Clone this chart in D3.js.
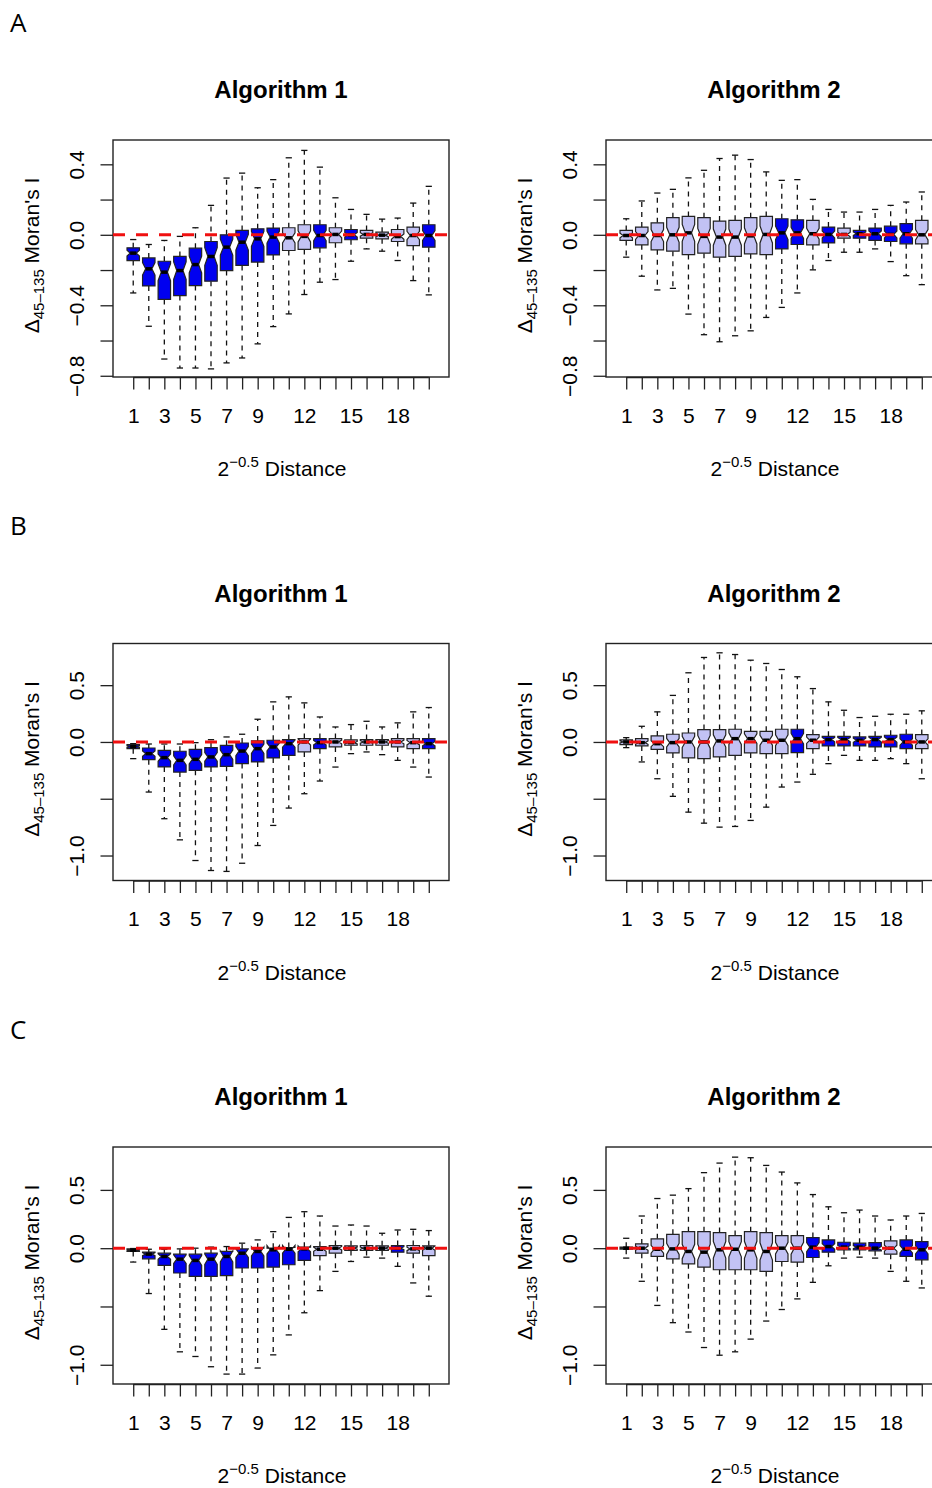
<!DOCTYPE html>
<html>
<head>
<meta charset="utf-8">
<script src="https://cdn.jsdelivr.net/npm/d3@7"></script>
<style>
  body { margin: 0; background: #fff; }
  svg { display: block; }
  text { font-family: "Liberation Sans", Arial, sans-serif; fill: #000; }
</style>
</head>
<body>
<svg id="fig" width="932" height="1488"></svg>
<script>
// distance classes on the x axis, and which of them R kept a label for
const distances = [1, 2, 3, 4, 5, 6, 7, 8, 9, 10, 11, 12, 13, 14, 15, 16, 17, 18, 19, 20];
const xLabels = [1, 3, 5, 7, 9, 12, 15, 18];

// y ticks per row (A, B, C) and the ones carrying a label
const yTicksA = [-0.8, -0.6, -0.4, -0.2, 0, 0.2, 0.4];
const yLabelsA = [-0.8, -0.4, 0, 0.4];
const yTicksBC = [-1.0, -0.5, 0, 0.5];
const yLabelsBC = [-1.0, 0, 0.5];

// box stats per distance: [lower whisker, Q1, median, Q3, upper whisker]
const statsA1 = [
  [-0.330, -0.146, -0.104, -0.074, -0.027], [-0.519, -0.290, -0.193, -0.131, -0.055],
  [-0.705, -0.367, -0.212, -0.150, -0.032], [-0.756, -0.345, -0.203, -0.123, -0.009],
  [-0.756, -0.288, -0.169, -0.076, 0.040], [-0.761, -0.263, -0.123, -0.038, 0.167],
  [-0.727, -0.203, -0.070, 0.000, 0.322], [-0.699, -0.174, -0.042, 0.025, 0.350],
  [-0.619, -0.155, -0.023, 0.034, 0.267], [-0.521, -0.114, -0.013, 0.038, 0.313],
  [-0.449, -0.089, -0.017, 0.040, 0.437], [-0.339, -0.083, -0.009, 0.057, 0.479],
  [-0.269, -0.074, -0.004, 0.057, 0.384], [-0.254, -0.045, 0.002, 0.040, 0.210],
  [-0.150, -0.028, 0.000, 0.030, 0.144], [-0.080, -0.019, 0.002, 0.025, 0.116],
  [-0.093, -0.023, -0.002, 0.015, 0.089], [-0.146, -0.038, -0.010, 0.030, 0.095],
  [-0.260, -0.061, -0.004, 0.044, 0.180], [-0.341, -0.070, -0.004, 0.057, 0.275]
];
const statsA2 = [
  [-0.127, -0.032, -0.004, 0.025, 0.091], [-0.235, -0.057, -0.004, 0.044, 0.192],
  [-0.313, -0.085, -0.004, 0.068, 0.237], [-0.304, -0.093, 0.000, 0.097, 0.258],
  [-0.450, -0.112, 0.011, 0.104, 0.323], [-0.567, -0.104, -0.009, 0.097, 0.366],
  [-0.607, -0.127, -0.013, 0.078, 0.433], [-0.573, -0.123, -0.013, 0.082, 0.452],
  [-0.545, -0.108, -0.006, 0.097, 0.427], [-0.469, -0.112, 0.002, 0.104, 0.357],
  [-0.412, -0.080, 0.011, 0.091, 0.309], [-0.330, -0.055, 0.011, 0.085, 0.313],
  [-0.199, -0.057, 0.006, 0.082, 0.201], [-0.146, -0.046, 0.002, 0.044, 0.144],
  [-0.099, -0.019, 0.002, 0.038, 0.129], [-0.099, -0.019, 0.006, 0.025, 0.129],
  [-0.080, -0.032, 0.006, 0.038, 0.144], [-0.152, -0.038, 0.002, 0.049, 0.167],
  [-0.232, -0.051, 0.006, 0.063, 0.186], [-0.283, -0.051, 0.000, 0.082, 0.243]
];
const statsB1 = [
  [-0.147, -0.059, -0.041, -0.024, -0.015], [-0.441, -0.156, -0.103, -0.053, -0.018],
  [-0.676, -0.220, -0.138, -0.074, -0.018], [-0.862, -0.265, -0.162, -0.082, -0.018],
  [-1.044, -0.250, -0.153, -0.065, -0.006], [-1.132, -0.220, -0.132, -0.050, 0.020],
  [-1.140, -0.215, -0.112, -0.030, 0.044], [-1.068, -0.190, -0.080, -0.009, 0.068],
  [-0.912, -0.176, -0.059, 0.009, 0.200], [-0.735, -0.141, -0.044, 0.015, 0.353],
  [-0.582, -0.118, -0.015, 0.021, 0.397], [-0.456, -0.088, 0.000, 0.030, 0.344],
  [-0.344, -0.059, -0.006, 0.030, 0.220], [-0.221, -0.044, 0.000, 0.030, 0.132],
  [-0.103, -0.029, -0.006, 0.018, 0.153], [-0.088, -0.029, 0.000, 0.021, 0.182],
  [-0.112, -0.029, 0.000, 0.021, 0.132], [-0.162, -0.044, 0.000, 0.030, 0.168],
  [-0.221, -0.059, -0.006, 0.030, 0.265], [-0.309, -0.059, -0.015, 0.030, 0.303]
];
const statsB2 = [
  [-0.050, -0.024, 0.000, 0.018, 0.038], [-0.176, -0.035, -0.006, 0.030, 0.138],
  [-0.324, -0.065, -0.015, 0.053, 0.265], [-0.479, -0.097, -0.006, 0.068, 0.410],
  [-0.618, -0.141, 0.000, 0.079, 0.609], [-0.715, -0.147, 0.000, 0.109, 0.744],
  [-0.750, -0.132, 0.009, 0.109, 0.785], [-0.744, -0.118, 0.029, 0.112, 0.770],
  [-0.691, -0.097, 0.029, 0.094, 0.720], [-0.574, -0.103, 0.015, 0.094, 0.691],
  [-0.397, -0.103, 0.015, 0.112, 0.638], [-0.353, -0.094, 0.029, 0.112, 0.574],
  [-0.285, -0.059, 0.015, 0.065, 0.470], [-0.191, -0.035, 0.021, 0.050, 0.353],
  [-0.118, -0.035, 0.021, 0.050, 0.279], [-0.162, -0.035, 0.015, 0.044, 0.215],
  [-0.162, -0.044, 0.021, 0.050, 0.226], [-0.147, -0.044, 0.021, 0.059, 0.244],
  [-0.191, -0.059, 0.000, 0.068, 0.244], [-0.324, -0.059, 0.000, 0.065, 0.274]
];
const statsC1 = [
  [-0.119, -0.028, -0.017, -0.006, -0.003], [-0.389, -0.091, -0.051, -0.034, -0.009],
  [-0.696, -0.148, -0.071, -0.043, -0.009], [-0.889, -0.213, -0.094, -0.051, -0.006],
  [-0.929, -0.241, -0.105, -0.051, 0.000], [-1.017, -0.241, -0.094, -0.043, 0.009],
  [-1.080, -0.236, -0.071, -0.028, 0.014], [-1.080, -0.170, -0.043, -0.006, 0.043],
  [-1.028, -0.170, -0.028, 0.000, 0.071], [-0.915, -0.162, -0.014, 0.000, 0.142],
  [-0.744, -0.142, -0.009, 0.006, 0.264], [-0.554, -0.105, -0.006, 0.009, 0.313],
  [-0.364, -0.063, -0.009, 0.014, 0.276], [-0.199, -0.043, 0.000, 0.023, 0.190],
  [-0.114, -0.020, 0.000, 0.020, 0.199], [-0.077, -0.020, 0.000, 0.023, 0.190],
  [-0.085, -0.020, 0.000, 0.020, 0.128], [-0.156, -0.034, 0.000, 0.023, 0.156],
  [-0.298, -0.043, -0.006, 0.023, 0.162], [-0.412, -0.063, 0.000, 0.020, 0.151]
];
const statsC2 = [
  [-0.085, -0.009, 0.000, 0.009, 0.085], [-0.284, -0.043, 0.000, 0.037, 0.276],
  [-0.491, -0.071, -0.009, 0.080, 0.426], [-0.639, -0.091, -0.006, 0.119, 0.455],
  [-0.719, -0.134, -0.028, 0.142, 0.511], [-0.852, -0.162, -0.034, 0.142, 0.648],
  [-0.918, -0.185, -0.014, 0.134, 0.730], [-0.889, -0.185, -0.009, 0.108, 0.781],
  [-0.780, -0.185, -0.014, 0.142, 0.776], [-0.625, -0.199, -0.028, 0.134, 0.710],
  [-0.526, -0.114, 0.000, 0.108, 0.653], [-0.435, -0.119, 0.000, 0.108, 0.560],
  [-0.293, -0.080, 0.009, 0.091, 0.460], [-0.151, -0.034, 0.014, 0.071, 0.355],
  [-0.085, -0.014, 0.009, 0.051, 0.304], [-0.077, -0.014, 0.009, 0.043, 0.327],
  [-0.085, -0.023, 0.000, 0.048, 0.276], [-0.199, -0.051, 0.000, 0.063, 0.242],
  [-0.284, -0.071, -0.009, 0.071, 0.276], [-0.341, -0.100, -0.014, 0.057, 0.298]
];

// fill of each box: b = blue, l = lavender
const fillA1 = "bbbbbbbbbbllblbllllb".split("");
const fillA2 = "llllllllllbblblbbbbl".split("");
const fillB1 = "bbbbbbbbbbblbllllllb".split("");
const fillB2 = "lllllllllllblbbbbbbl".split("");
const fillC1 = "bbbbbbbbbbbblllllbll".split("");
const fillC2 = "llllllllllllbbbbblbb".split("");

const sampleSize = 50; // used for the notch width, as R's boxplot does

const COLORS = { b: "#0000f0", l: "#c2c2f4" };

const rows = [
  { letter: "A", top: 140, domain: [-0.807, 0.538], ticks: yTicksA, labels: yLabelsA,
    panels: [[statsA1, fillA1], [statsA2, fillA2]] },
  { letter: "B", top: 643.5, domain: [-1.22, 0.867], ticks: yTicksBC, labels: yLabelsBC,
    panels: [[statsB1, fillB1], [statsB2, fillB2]] },
  { letter: "C", top: 1147, domain: [-1.165, 0.868], ticks: yTicksBC, labels: yLabelsBC,
    panels: [[statsC1, fillC1], [statsC2, fillC2]] }
];

const svg = d3.select("#fig");
const panelW = 336, panelH = 237;
const colLeft = [113, 606];
const fmt = d3.format(".1f");

rows.forEach((row, r) => {
  const rowOff = r * 503.5;

  svg.append("text")
    .attr("x", 10).attr("y", 31.7 + rowOff)
    .style("font-family", "'Open Sans', 'Noto Sans', sans-serif")
    .style("font-size", "26px")
    .text(row.letter);

  row.panels.forEach(([stats, fills], c) => {
    const left = colLeft[c];
    const top = row.top;
    const g = svg.append("g");

    const x = d3.scaleLinear().domain([-0.3, 21.3]).range([left, left + panelW]);
    const y = d3.scaleLinear().domain(row.domain).range([top + panelH, top]);
    const hw = (x(0.4) - x(0));  // half box width (boxwex 0.8)

    // title
    g.append("text")
      .attr("x", left + panelW / 2).attr("y", top - 42)
      .attr("text-anchor", "middle")
      .style("font-size", "24px").style("font-weight", "bold")
      .text("Algorithm " + (c + 1));

    // boxes
    const box = g.selectAll(".box")
      .data(stats.map((s, i) => ({ s, d: distances[i], f: fills[i] })))
      .enter().append("g").attr("class", "box");

    // whiskers
    box.append("line")
      .attr("x1", d => x(d.d)).attr("x2", d => x(d.d))
      .attr("y1", d => y(d.s[3])).attr("y2", d => y(d.s[4]))
      .attr("stroke", "#111").attr("stroke-width", 1.3).attr("stroke-dasharray", "5,5");
    box.append("line")
      .attr("x1", d => x(d.d)).attr("x2", d => x(d.d))
      .attr("y1", d => y(d.s[1])).attr("y2", d => y(d.s[0]))
      .attr("stroke", "#111").attr("stroke-width", 1.3).attr("stroke-dasharray", "5,5");
    // staples
    [0, 4].forEach(k => {
      box.append("line")
        .attr("x1", d => x(d.d) - hw / 2).attr("x2", d => x(d.d) + hw / 2)
        .attr("y1", d => y(d.s[k])).attr("y2", d => y(d.s[k]))
        .attr("stroke", "#111").attr("stroke-width", 1.3);
    });

    // notched box
    box.append("path")
      .attr("d", d => {
        const [lo, q1, md, q3, hi] = d.s;
        const n = 1.58 * (q3 - q1) / Math.sqrt(sampleSize);
        const cx = x(d.d);
        const pts = [
          [cx - hw, q1], [cx + hw, q1], [cx + hw, md - n], [cx + hw / 2, md],
          [cx + hw, md + n], [cx + hw, q3], [cx - hw, q3], [cx - hw, md + n],
          [cx - hw / 2, md], [cx - hw, md - n]
        ];
        return "M" + pts.map(p => p[0] + "," + y(p[1])).join("L") + "Z";
      })
      .attr("fill", d => COLORS[d.f])
      .attr("stroke", "#222").attr("stroke-width", 1.2);

    // medians
    box.append("line")
      .attr("x1", d => x(d.d) - hw / 2).attr("x2", d => x(d.d) + hw / 2)
      .attr("y1", d => y(d.s[2])).attr("y2", d => y(d.s[2]))
      .attr("stroke", "#000").attr("stroke-width", 3.5);

    // x axis
    const xAxis = g.append("g")
      .attr("transform", `translate(0,${top + panelH})`)
      .call(d3.axisBottom(x).tickValues(distances).tickSize(12.5)
        .tickFormat(d => xLabels.includes(d) ? d : ""));
    xAxis.select(".domain").attr("d", `M${x(1)},0.5H${x(20)}`).attr("stroke", "#222").attr("stroke-width", 1.3);
    xAxis.selectAll(".tick line").attr("stroke", "#222").attr("stroke-width", 1.3);
    xAxis.selectAll(".tick text")
      .attr("y", 0).attr("dy", null)
      .attr("transform", "translate(0,45.5)")
      .style("font-size", "21px").style("font-family", "'Liberation Sans', Arial, sans-serif")
      .attr("fill", "#000");

    // y axis
    const yAxis = g.append("g")
      .attr("transform", `translate(${left},0)`)
      .call(d3.axisLeft(y).tickValues(row.ticks).tickSize(12.5)
        .tickFormat(d => row.labels.includes(d) ? fmt(d) : ""));
    yAxis.select(".domain").remove();
    yAxis.selectAll(".tick line").attr("stroke", "#222").attr("stroke-width", 1.3);
    yAxis.selectAll(".tick text")
      .attr("x", 0).attr("dy", null)
      .attr("text-anchor", "middle")
      .attr("transform", "translate(-29,0) rotate(-90)")
      .style("font-size", "21px").style("font-family", "'Liberation Sans', Arial, sans-serif")
      .attr("fill", "#000");

    // frame
    g.append("rect")
      .attr("x", left).attr("y", top).attr("width", panelW).attr("height", panelH)
      .attr("fill", "none").attr("stroke", "#222").attr("stroke-width", 1.4);

    // zero reference
    g.append("line")
      .attr("x1", left).attr("x2", left + panelW)
      .attr("y1", y(0)).attr("y2", y(0))
      .attr("stroke", "#f01010").attr("stroke-width", 3).attr("stroke-dasharray", "12,11");

    // x title
    const xt = g.append("text")
      .attr("x", left + panelW / 2 + 1).attr("y", top + panelH + 99)
      .attr("text-anchor", "middle").style("font-size", "21px");
    xt.append("tspan").text("2");
    xt.append("tspan").attr("dy", -9).style("font-size", "15px").text("−0.5");
    xt.append("tspan").attr("dy", 9).text(" Distance");

    // y title
    const yt = g.append("text")
      .attr("transform", `translate(${left - 74},${top + panelH / 2 - 3}) rotate(-90)`)
      .attr("text-anchor", "middle").style("font-size", "21px");
    yt.append("tspan").text("Δ");
    yt.append("tspan").attr("dy", 5).style("font-size", "15px").text("45–135");
    yt.append("tspan").attr("dy", -5).text(" Moran's I");
  });
});
</script>
</body>
</html>
